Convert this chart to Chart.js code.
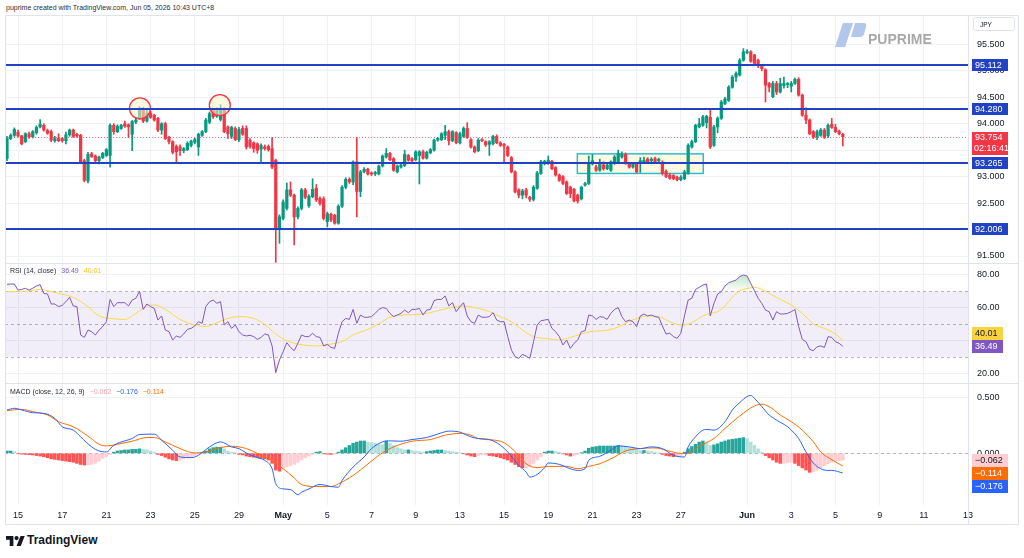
<!DOCTYPE html>
<html>
<head>
<meta charset="utf-8">
<title>JPY 4H</title>
<script src="https://cdn.jsdelivr.net/npm/chart.js@4.4.1/dist/chart.umd.min.js"></script>
<style>
  html, body { margin: 0; padding: 0; background: #fff; }
  body { width: 1024px; height: 558px; position: relative; overflow: hidden;
         font-family: 'Liberation Sans', Arial, sans-serif; color: #131722; }
  canvas { position: absolute; left: 0; }
  .abs { position: absolute; white-space: nowrap; }
  .sep { position: absolute; background: #e0e3eb; }
  #title { left: 6px; top: 4px; font-size: 7px; color: #2a2e39; }
  .legend { position: absolute; left: 10px; font-size: 7px; white-space: nowrap; color: #2a2e39; }
  .legend span { margin-left: 3px; }
  #jpy { left: 973px; top: 17px; width: 42px; height: 14px; border: 1px solid #e0e3eb; border-radius: 3px;
         font-size: 6.5px; line-height: 13px; padding-left: 6px; box-sizing: border-box; }
</style>
</head>
<body>
<div id="title" class="abs">puprime created with TradingView.com, Jun 05, 2026 10:43 UTC+8</div>

<canvas id="priceChart" width="1024" height="248" style="top:15px"></canvas>
<canvas id="rsiChart" width="1024" height="120" style="top:263px"></canvas>
<canvas id="macdChart" width="1024" height="141" style="top:383px"></canvas>

<!-- frame -->
<div class="sep" style="left:5px;top:15px;width:1014px;height:1px"></div>
<div class="sep" style="left:5px;top:524px;width:1014px;height:1px"></div>
<div class="sep" style="left:5px;top:15px;width:1px;height:510px"></div>
<div class="sep" style="left:1018px;top:15px;width:1px;height:510px"></div>
<div class="sep" style="left:968px;top:15px;width:1px;height:510px"></div>
<div class="sep" style="left:5px;top:263px;width:1014px;height:1px"></div>
<div class="sep" style="left:5px;top:383px;width:1014px;height:1px"></div>

<div id="jpy" class="abs">JPY</div>

<!-- watermark -->
<svg class="abs" style="left:834px;top:22px" width="34" height="26" viewBox="0 0 34 26">
  <path d="M1 25 L11 25 L19 1 L9 1 Z" fill="#b3c6ec"/>
  <path d="M21 1 H30 Q33 1 32 5 L30 12 Q29 15 26 15 H17 Z" fill="#b3c6ec"/>
</svg>
<div class="abs" style="left:868px;top:31px;font-size:14px;font-weight:bold;color:#a9a9a9">PUPRIME</div>

<div class="legend" style="top:267px">RSI (14, close) <span style="color:#7e57c2">36.49</span> <span style="color:#f5c518">40.01</span></div>
<div class="legend" style="top:388px">MACD (close, 12, 26, 9) <span style="color:#f7a1ab">−0.062</span> <span style="color:#2962ff">−0.176</span> <span style="color:#ff6d00">−0.114</span></div>

<!-- TradingView mark -->
<svg class="abs" style="left:6px;top:536px" width="19" height="10" viewBox="0 0 36 19">
  <path d="M14 19H7V7H0V0h14v19z" fill="#131722"/>
  <circle cx="20" cy="4" r="4" fill="#131722"/>
  <path d="M28 19h-8L27.5 0h8L28 19z" fill="#131722"/>
</svg>
<div class="abs" style="left:27px;top:533px;font-size:12px;font-weight:bold;color:#131722">TradingView</div>

<script>
const FONT = "'Liberation Sans', Arial, sans-serif";
const UP = '#089981';
const DOWN = '#f23645';
const LEVEL = '#2142c4';

// time axis (candle index of each label)
const tickIdx = [3, 15, 27, 39, 51, 63, 75, 87, 99, 111, 123, 135, 147, 159, 171, 183, 201, 213, 225, 237, 249, 261];
const tickText = ['15', '17', '21', '23', '25', '29', 'May', '5', '7', '9', '13', '15', '19', '21', '23', '27', 'Jun', '3', '5', '9', '11', '13'];

// 4H candles
const opens = [
  93.34, 93.72, 93.78, 93.84, 93.77, 93.66, 93.81, 93.75, 93.83, 93.94,
  93.97, 93.87, 93.85, 93.68, 93.72, 93.72, 93.68, 93.79, 93.88, 93.80,
  93.78, 93.30, 92.92, 93.43, 93.39, 93.30, 93.36, 93.40, 93.40, 93.97,
  93.85, 93.91, 94.00, 93.98, 93.80, 94.03, 94.10, 94.28, 94.05, 94.20,
  94.16, 94.10, 93.88, 94.00, 93.74, 93.66, 93.57, 93.56, 93.49, 93.51,
  93.59, 93.65, 93.56, 93.78, 93.85, 94.03, 94.25, 94.14, 94.08, 94.26,
  93.94, 93.76, 93.91, 93.70, 93.91, 93.91, 93.69, 93.64, 93.62, 93.52,
  93.56, 93.57, 93.53, 93.31, 92.02, 92.21, 92.40, 92.75, 92.65, 92.24,
  92.40, 92.75, 92.45, 92.62, 92.78, 92.59, 92.58, 92.15, 92.29, 92.27,
  92.12, 92.44, 92.80, 92.95, 92.90, 93.28, 92.72, 93.09, 93.14, 93.07,
  93.05, 93.05, 93.20, 93.37, 93.44, 93.34, 93.09, 93.18, 93.21, 93.40,
  93.34, 93.32, 93.40, 93.47, 93.35, 93.45, 93.50, 93.69, 93.70, 93.78,
  93.85, 93.68, 93.83, 93.64, 93.76, 93.91, 93.70, 93.56, 93.49, 93.70,
  93.66, 93.61, 93.62, 93.76, 93.64, 93.61, 93.56, 93.36, 93.09, 92.75,
  92.65, 92.75, 92.61, 92.57, 92.78, 93.06, 93.25, 93.25, 93.29, 93.17,
  93.03, 93.00, 92.90, 92.80, 92.76, 92.65, 92.58, 92.84, 92.87, 93.24,
  93.18, 93.12, 93.22, 93.15, 93.12, 93.25, 93.28, 93.37, 93.42, 93.25,
  93.18, 93.24, 93.25, 93.28, 93.33, 93.30, 93.34, 93.30, 93.24, 93.10,
  93.03, 93.02, 92.99, 92.94, 92.96, 93.06, 93.56, 93.66, 93.94, 93.97,
  94.02, 94.12, 93.59, 93.94, 94.10, 94.38, 94.44, 94.69, 94.88, 94.92,
  95.20, 95.34, 95.36, 95.30, 95.20, 95.10, 95.02, 94.76, 94.51, 94.76,
  94.60, 94.72, 94.74, 94.71, 94.76, 94.84, 94.54, 94.16, 94.07, 93.85,
  93.75, 93.78, 93.88, 93.77, 93.99, 93.93, 93.86, 93.80
];
const highs = [
  93.76, 93.81, 93.92, 93.88, 93.78, 93.83, 93.84, 93.87, 93.96, 94.08,
  94.00, 93.90, 93.88, 93.76, 93.81, 93.74, 93.84, 93.90, 93.90, 93.82,
  93.80, 93.33, 93.46, 93.46, 93.41, 93.39, 93.46, 93.53, 94.00, 94.00,
  93.98, 93.99, 94.05, 94.00, 94.06, 94.10, 94.32, 94.31, 94.26, 94.24,
  94.18, 94.12, 94.02, 94.03, 93.76, 93.68, 93.60, 93.60, 93.55, 93.66,
  93.69, 93.73, 93.82, 93.87, 94.10, 94.22, 94.28, 94.30, 94.36, 94.30,
  93.96, 93.95, 93.94, 93.93, 93.96, 93.96, 93.72, 93.66, 93.64, 93.62,
  93.60, 93.60, 93.74, 93.33, 92.28, 92.56, 92.88, 92.90, 92.67, 92.43,
  92.78, 92.78, 92.66, 92.96, 92.85, 92.62, 92.62, 92.33, 92.31, 92.29,
  92.47, 92.83, 92.98, 92.98, 93.30, 93.74, 93.12, 93.17, 93.16, 93.09,
  93.10, 93.22, 93.41, 93.53, 93.46, 93.36, 93.22, 93.24, 93.50, 93.42,
  93.36, 93.49, 93.49, 93.50, 93.48, 93.53, 93.71, 93.74, 93.83, 93.97,
  93.88, 93.87, 93.85, 93.84, 93.94, 94.02, 93.72, 93.58, 93.72, 93.72,
  93.68, 93.68, 93.78, 93.79, 93.66, 93.63, 93.58, 93.38, 93.11, 92.77,
  92.76, 92.78, 92.63, 92.83, 93.10, 93.31, 93.31, 93.39, 93.31, 93.19,
  93.05, 93.02, 92.92, 92.82, 92.78, 92.67, 92.82, 92.89, 93.39, 93.42,
  93.22, 93.33, 93.28, 93.27, 93.30, 93.40, 93.50, 93.47, 93.45, 93.27,
  93.27, 93.26, 93.36, 93.37, 93.36, 93.36, 93.37, 93.35, 93.30, 93.13,
  93.06, 93.04, 93.01, 93.02, 93.12, 93.62, 93.69, 93.99, 94.10, 94.16,
  94.16, 94.28, 93.97, 94.13, 94.44, 94.50, 94.72, 94.91, 94.98, 95.23,
  95.42, 95.40, 95.38, 95.31, 95.22, 95.12, 95.04, 94.78, 94.80, 94.80,
  94.86, 94.88, 94.78, 94.80, 94.86, 94.87, 94.56, 94.30, 94.09, 93.87,
  93.88, 93.91, 93.91, 94.00, 94.10, 93.99, 93.88, 93.82
];
const lows = [
  93.30, 93.70, 93.76, 93.75, 93.60, 93.64, 93.72, 93.73, 93.80, 93.92,
  93.86, 93.80, 93.66, 93.65, 93.66, 93.65, 93.62, 93.76, 93.74, 93.74,
  93.26, 92.90, 92.88, 93.36, 93.28, 93.24, 93.34, 93.38, 93.18, 93.80,
  93.83, 93.89, 93.93, 93.74, 93.49, 94.00, 94.08, 94.02, 94.03, 94.10,
  94.05, 93.85, 93.80, 93.70, 93.62, 93.43, 93.28, 93.40, 93.45, 93.49,
  93.56, 93.62, 93.40, 93.76, 93.83, 94.00, 94.10, 94.12, 94.05, 93.83,
  93.72, 93.72, 93.68, 93.66, 93.78, 93.52, 93.54, 93.46, 93.44, 93.28,
  93.50, 93.48, 93.15, 91.38, 91.74, 92.18, 92.37, 92.62, 91.71, 92.20,
  92.37, 92.58, 92.42, 92.60, 92.53, 92.46, 92.18, 92.05, 92.15, 92.10,
  92.10, 92.42, 92.77, 92.87, 92.85, 92.24, 92.62, 93.07, 93.03, 93.02,
  93.02, 93.03, 93.18, 93.35, 93.30, 93.10, 93.07, 93.16, 93.19, 93.29,
  93.28, 93.30, 92.86, 93.33, 93.33, 93.43, 93.48, 93.67, 93.68, 93.70,
  93.60, 93.66, 93.62, 93.62, 93.74, 93.72, 93.54, 93.45, 93.47, 93.66,
  93.57, 93.40, 93.60, 93.62, 93.57, 93.25, 93.38, 93.07, 92.69, 92.60,
  92.58, 92.60, 92.53, 92.54, 92.76, 93.04, 93.22, 93.23, 93.13, 93.01,
  92.91, 92.85, 92.66, 92.60, 92.52, 92.50, 92.56, 92.82, 92.85, 93.22,
  93.10, 93.10, 93.12, 93.13, 93.10, 93.23, 93.26, 93.35, 93.23, 93.16,
  93.16, 93.07, 93.08, 93.26, 93.26, 93.28, 93.26, 93.28, 93.03, 92.98,
  92.95, 92.94, 92.92, 92.92, 92.94, 93.04, 93.54, 93.64, 93.92, 93.95,
  93.92, 93.53, 93.57, 93.83, 94.08, 94.36, 94.42, 94.67, 94.80, 94.90,
  95.18, 95.32, 95.16, 95.10, 95.06, 95.00, 94.41, 94.60, 94.49, 94.55,
  94.58, 94.67, 94.68, 94.60, 94.74, 94.52, 94.14, 94.00, 93.79, 93.72,
  93.70, 93.76, 93.72, 93.74, 93.91, 93.83, 93.79, 93.58
];
const closes = [
  93.72, 93.78, 93.89, 93.77, 93.62, 93.81, 93.75, 93.85, 93.93, 93.99,
  93.88, 93.82, 93.69, 93.72, 93.68, 93.68, 93.79, 93.88, 93.76, 93.77,
  93.28, 92.93, 93.42, 93.38, 93.30, 93.37, 93.44, 93.51, 93.97, 93.85,
  93.95, 93.97, 93.95, 93.94, 94.04, 94.07, 94.29, 94.05, 94.20, 94.12,
  94.07, 93.88, 94.00, 93.72, 93.66, 93.46, 93.47, 93.49, 93.53, 93.63,
  93.67, 93.70, 93.80, 93.85, 94.07, 94.19, 94.13, 94.25, 94.27, 93.85,
  93.81, 93.93, 93.70, 93.89, 93.80, 93.56, 93.57, 93.53, 93.50, 93.59,
  93.53, 93.51, 93.18, 92.02, 92.24, 92.52, 92.75, 92.65, 92.24, 92.40,
  92.75, 92.61, 92.63, 92.76, 92.56, 92.49, 92.21, 92.30, 92.18, 92.12,
  92.44, 92.80, 92.95, 92.90, 93.28, 92.72, 93.09, 93.14, 93.05, 93.05,
  93.08, 93.20, 93.39, 93.44, 93.32, 93.12, 93.20, 93.22, 93.42, 93.31,
  93.30, 93.47, 93.47, 93.35, 93.46, 93.51, 93.69, 93.72, 93.81, 93.85,
  93.68, 93.85, 93.64, 93.81, 93.91, 93.74, 93.56, 93.47, 93.69, 93.68,
  93.60, 93.66, 93.76, 93.64, 93.59, 93.58, 93.40, 93.09, 92.71, 92.65,
  92.73, 92.65, 92.57, 92.80, 93.07, 93.28, 93.29, 93.31, 93.15, 93.03,
  92.93, 92.87, 92.68, 92.68, 92.54, 92.54, 92.80, 92.87, 93.24, 93.30,
  93.12, 93.25, 93.15, 93.22, 93.28, 93.37, 93.44, 93.42, 93.25, 93.18,
  93.25, 93.09, 93.30, 93.31, 93.28, 93.33, 93.28, 93.33, 93.06, 93.00,
  92.97, 92.96, 92.94, 92.99, 93.09, 93.59, 93.66, 93.97, 94.00, 94.13,
  94.14, 93.56, 93.94, 94.10, 94.41, 94.47, 94.69, 94.88, 94.95, 95.20,
  95.36, 95.36, 95.18, 95.14, 95.10, 95.04, 94.73, 94.69, 94.76, 94.60,
  94.76, 94.76, 94.75, 94.76, 94.84, 94.54, 94.16, 94.07, 93.81, 93.75,
  93.85, 93.88, 93.74, 93.97, 93.93, 93.85, 93.81, 93.754
];

const levels = [95.112, 94.280, 93.265, 92.006];
const lastPrice = 93.754;
const countdown = '02:16:41';
const priceTicks = [91.5, 92, 92.5, 93, 93.5, 94, 94.5, 95, 95.5];
const boxIdx = [154.9, 189.1];
const boxPrice = [93.06, 93.43];
const circleIdx = [36.1, 57.8];
const circlePrice = [94.29, 94.35];

// RSI (14) and its moving average
const rsi = [
  74.3, 74.5, 74.5, 70.8, 71.2, 71.9, 70.8, 71.9, 73.3, 74.1,
  68.8, 68.4, 62.3, 62.3, 60.7, 61.5, 63.7, 66.4, 61.1, 60.7,
  43.4, 41.9, 46.4, 45.4, 43.4, 46.4, 48.5, 51.5, 65.1, 60.7,
  63.1, 63.1, 63.1, 61.1, 64.7, 65.8, 70.0, 59.0, 62.3, 60.7,
  59.6, 52.5, 55.0, 46.4, 45.4, 40.3, 42.8, 41.9, 44.0, 46.8,
  47.4, 48.9, 51.5, 50.5, 60.7, 63.7, 64.7, 62.7, 63.7, 49.5,
  51.5, 47.4, 49.5, 45.4, 43.4, 42.8, 43.2, 42.4, 40.7, 41.9,
  44.0, 43.4, 36.7, 20.4, 28.1, 33.2, 38.7, 35.8, 33.8, 38.3,
  43.4, 42.4, 42.4, 44.4, 42.4, 41.9, 36.7, 37.7, 35.8, 35.2,
  44.4, 51.5, 53.5, 52.9, 59.0, 50.5, 55.6, 54.2, 54.2, 54.6,
  56.6, 59.0, 60.1, 59.6, 56.6, 54.6, 55.6, 56.6, 58.6, 57.0,
  59.0, 59.0, 59.6, 55.6, 58.6, 59.0, 64.3, 65.1, 65.1, 67.2,
  61.1, 63.1, 57.6, 60.7, 63.1, 55.0, 51.5, 50.5, 55.6, 54.2,
  54.2, 54.6, 57.0, 52.5, 51.5, 51.5, 42.4, 34.2, 30.1, 29.1,
  31.6, 30.5, 29.1, 39.3, 49.5, 52.1, 52.5, 52.9, 47.4, 45.4,
  42.4, 37.3, 40.3, 35.2, 38.3, 40.3, 45.4, 46.0, 55.6, 55.0,
  52.9, 54.6, 54.2, 52.9, 56.6, 59.0, 60.1, 54.6, 51.5, 52.5,
  51.5, 48.5, 55.0, 56.2, 55.0, 55.6, 54.6, 54.2, 48.9, 44.0,
  44.4, 42.4, 41.3, 44.4, 55.0, 64.7, 65.8, 71.2, 72.5, 73.9,
  74.5, 55.0, 62.7, 68.4, 69.8, 73.3, 75.3, 76.1, 76.9, 79.0,
  80.0, 79.4, 74.9, 70.4, 65.8, 62.7, 58.6, 57.6, 52.5, 57.6,
  56.2, 56.2, 56.6, 57.6, 59.0, 48.5, 40.7, 39.3, 34.6, 33.8,
  36.2, 36.7, 35.8, 42.4, 41.9, 39.3, 38.3, 36.49
];
const rsiMaIdx = [0, 4, 9, 12, 16, 18, 22, 25, 28, 32, 35, 38, 40, 43, 47, 51, 54, 56, 60, 63,
  67, 70, 73, 76, 79, 84, 89, 91, 94, 98, 101, 104, 108, 113, 116, 121, 124, 128, 131, 134,
  137, 140, 143, 147, 150, 153, 156, 159, 162, 165, 168, 171, 174, 177, 180, 183, 186, 189, 191, 193,
  195, 197, 199, 201, 203, 205, 207, 210, 213, 216, 219, 222, 225, 227];
const rsiMa = [69.8, 69.8, 71.2, 69.8, 67.8, 66.4, 60.7, 55.0, 53.5, 52.9, 56.6, 61.1, 61.7, 59.0, 52.9, 49.5, 48.5, 49.9, 53.5, 54.6,
  53.5, 49.9, 44.0, 39.9, 37.9, 36.7, 38.3, 39.3, 43.4, 46.8, 50.1, 54.2, 55.6, 56.2, 57.6, 60.3, 61.1, 59.6, 57.6, 54.6,
  51.5, 46.4, 42.4, 41.1, 40.3, 41.9, 44.0, 45.6, 46.0, 47.4, 50.5, 53.5, 55.0, 54.6, 51.5, 49.5, 50.9, 55.0, 56.6, 57.6,
  61.1, 66.4, 70.4, 71.7, 72.5, 71.2, 68.8, 65.1, 61.7, 56.6, 50.1, 47.4, 44.0, 40.01];
const rsiTicks = [20, 40, 60, 80];
const rsiLevels = [70, 50, 30];

// MACD (12, 26, 9)
const hist = [
  0.02, 0.02, 0.015, -0.005, -0.008, -0.01, -0.012, -0.015, -0.02, -0.025,
  -0.03, -0.04, -0.05, -0.055, -0.06, -0.065, -0.07, -0.075, -0.08, -0.09,
  -0.1, -0.105, -0.1, -0.1, -0.09, -0.07, -0.045, -0.03, -0.01, 0.01,
  0.02, 0.025, 0.03, 0.03, 0.035, 0.035, 0.04, 0.035, 0.03, 0.02,
  0.01, -0.01, -0.02, -0.035, -0.05, -0.06, -0.065, -0.06, -0.05, -0.04,
  -0.03, -0.02, -0.008, 0.01, 0.02, 0.04, 0.05, 0.055, 0.055, 0.04,
  0.02, 0.01, 0.005, -0.01, -0.015, -0.025, -0.03, -0.035, -0.04, -0.045,
  -0.05, -0.06, -0.09, -0.15, -0.16, -0.14, -0.12, -0.11, -0.1, -0.08,
  -0.06, -0.04, -0.025, -0.01, 0.01, 0.015, -0.005, -0.008, -0.01, -0.005,
  0.01, 0.03, 0.05, 0.07, 0.09, 0.1, 0.11, 0.11, 0.1, 0.095,
  0.09, 0.08, 0.075, 0.11, 0.09, 0.07, 0.05, 0.04, 0.03, 0.03,
  0.025, 0.02, 0.015, 0.01, 0.015, 0.02, 0.025, 0.03, 0.03, 0.025,
  0.02, 0.015, 0.01, 0.005, -0.005, -0.015, -0.025, -0.03, -0.02, -0.015,
  -0.015, -0.02, -0.025, -0.03, -0.04, -0.05, -0.06, -0.08, -0.1, -0.12,
  -0.13, -0.13, -0.12, -0.09, -0.06, -0.03, 0.01, 0.02, 0.02, 0.015,
  0.01, -0.005, -0.015, -0.025, -0.02, -0.01, 0.005, 0.02, 0.045, 0.055,
  0.06, 0.065, 0.065, 0.065, 0.065, 0.065, 0.07, 0.065, 0.06, 0.05,
  0.045, 0.04, 0.025, 0.025, 0.02, 0.015, 0.01, 0.005, -0.01, -0.02,
  -0.025, -0.03, -0.03, -0.02, 0.01, 0.04, 0.06, 0.08, 0.1, 0.11,
  0.1, 0.07, 0.075, 0.085, 0.1, 0.11, 0.12, 0.125, 0.13, 0.135,
  0.14, 0.13, 0.1, 0.07, 0.04, 0.01, -0.02, -0.04, -0.06, -0.08,
  -0.09, -0.09, -0.085, -0.08, -0.09, -0.11, -0.13, -0.15, -0.17, -0.165,
  -0.15, -0.13, -0.11, -0.095, -0.08, -0.07, -0.066, -0.062
];
const macdIdx = [0, 2, 4, 7, 10, 13, 15, 18, 20, 23, 25, 27, 29, 32, 34, 36, 40, 42, 45, 47,
  50, 52, 55, 58, 61, 63, 65, 68, 70, 72, 73, 75, 77, 79, 80, 82, 85, 88, 90, 91,
  94, 97, 99, 102, 104, 107, 110, 114, 118, 120, 123, 126, 128, 131, 134, 136, 139, 141, 142, 144,
  146, 147, 150, 153, 155, 157, 158, 161, 164, 166, 169, 172, 175, 178, 181, 184, 185, 187, 189, 190,
  192, 195, 197, 199, 201, 202, 203, 205, 207, 209, 212, 213, 215, 217, 219, 221, 223, 224, 227];
const macd = [0.387, 0.402, 0.387, 0.363, 0.357, 0.312, 0.237, 0.207, 0.147, 0.057, 0.021, 0.012, 0.072, 0.111, 0.132, 0.168, 0.171, 0.117, 0.027, -0.033,
  -0.039, -0.018, 0.057, 0.102, 0.057, 0.042, 0.003, -0.039, -0.063, -0.138, -0.273, -0.318, -0.324, -0.369, -0.348, -0.318, -0.279, -0.297, -0.303, -0.243,
  -0.123, -0.033, 0.042, 0.102, 0.111, 0.108, 0.123, 0.141, 0.183, 0.198, 0.189, 0.147, 0.132, 0.123, 0.072, 0.012, -0.108, -0.168, -0.213, -0.189,
  -0.129, -0.087, -0.099, -0.138, -0.153, -0.138, -0.063, -0.027, 0.027, 0.066, 0.057, 0.042, 0.057, 0.042, -0.018, -0.033, 0.057, 0.147, 0.207, 0.213,
  0.207, 0.282, 0.387, 0.453, 0.507, 0.517, 0.492, 0.417, 0.342, 0.297, 0.237, 0.207, 0.132, 0.012, -0.087, -0.138, -0.153, -0.153, -0.176];
const signalIdx = [0, 4, 7, 11, 14, 18, 22, 25, 27, 31, 34, 38, 40, 43, 47, 51, 54, 58, 61, 65,
  69, 72, 75, 78, 80, 84, 88, 90, 94, 97, 101, 104, 107, 110, 115, 119, 123, 126, 128, 134,
  136, 139, 141, 144, 147, 152, 155, 158, 161, 165, 168, 172, 176, 179, 182, 185, 188, 192, 195, 199,
  203, 205, 207, 210, 213, 216, 219, 221, 224, 227];
const signal = [0.381, 0.393, 0.372, 0.342, 0.282, 0.237, 0.153, 0.081, 0.066, 0.087, 0.108, 0.141, 0.141, 0.102, 0.042, 0.003, 0.012, 0.051, 0.063, 0.042,
  -0.018, -0.063, -0.138, -0.219, -0.279, -0.297, -0.297, -0.273, -0.198, -0.123, -0.018, 0.042, 0.081, 0.108, 0.123, 0.162, 0.177, 0.162, 0.132, 0.108,
  0.072, -0.018, -0.093, -0.129, -0.117, -0.117, -0.138, -0.117, -0.093, -0.033, 0.021, 0.042, 0.048, 0.027, 0.003, -0.003, 0.063, 0.132, 0.222, 0.333,
  0.423, 0.438, 0.417, 0.342, 0.282, 0.207, 0.102, 0.012, -0.057, -0.114];
const macdTicks = [0, 0.5];

const idx = closes.map((_, i) => i);
const candleColor = c => closes[c.dataIndex] >= opens[c.dataIndex] ? UP : DOWN;
const histColor = c => {
  const i = c.dataIndex;
  const v = hist[i];
  const p = i > 0 ? hist[i - 1] : v;
  if (v >= 0) return v >= p ? '#26a69a' : '#b2dfdb';
  return v < p ? '#ff5252' : '#ffcdd2';
};
const fmtNeg = s => s.replace('-', '\u2212');

function xAxis(showLabels) {
  return {
    type: 'linear', min: -0.54, max: 261, bounds: 'data', offset: false,
    afterBuildTicks: s => { s.ticks = tickIdx.map(v => ({ value: v })); },
    afterFit: s => { s.height = showLabels ? 19 : 0; s.paddingLeft = 0; s.paddingRight = 0; },
    grid: { color: '#f0f1f4', drawTicks: false, offset: false },
    border: { display: false },
    ticks: {
      display: showLabels, autoSkip: false, maxRotation: 0, padding: 5, color: '#131722',
      font: c => ({ family: FONT, size: 9, weight: /[A-Z]/.test(tickText[c.index] || '') ? 'bold' : 'normal' }),
      callback: (v, i) => tickText[i]
    }
  };
}

// the label padding is taken back out so the plot fills the whole pane height
function yAxis(min, max, ticks, digits) {
  return {
    position: 'right', min, max, bounds: 'data', beginAtZero: false,
    afterBuildTicks: s => { s.ticks = ticks.map(v => ({ value: v })); },
    afterFit: s => { s.width = 50; s.paddingTop = 0; s.paddingBottom = 0; },
    grid: { color: '#f0f1f4', drawTicks: false },
    border: { display: false },
    ticks: { padding: 9, color: '#131722', font: { family: FONT, size: 9 }, callback: v => v.toFixed(digits) }
  };
}

function tag(ctx, x, yc, w, h, bg, fg, text) {
  ctx.fillStyle = bg;
  ctx.fillRect(x, Math.round(yc - h / 2), w, h);
  ctx.fillStyle = fg;
  ctx.font = '9px ' + FONT;
  ctx.textAlign = 'left';
  ctx.textBaseline = 'middle';
  ctx.fillText(text, x + 3, yc + 0.5);
}

const baseOptions = {
  responsive: false,
  animation: false,
  events: [],
  layout: { padding: { left: 5, right: 6, top: 0, bottom: 0 }, autoPadding: false },
  plugins: { legend: { display: false }, tooltip: { enabled: false } }
};

// ---------- price pane ----------
const priceOverlay = {
  id: 'priceOverlay',
  beforeDatasetsDraw(chart) {
    const { ctx, scales: { x, y } } = chart;
    const x0 = x.getPixelForValue(boxIdx[0]), x1 = x.getPixelForValue(boxIdx[1]);
    const y0 = y.getPixelForValue(boxPrice[1]), y1 = y.getPixelForValue(boxPrice[0]);
    ctx.save();
    ctx.fillStyle = 'rgba(255, 243, 196, 0.5)';
    ctx.fillRect(x0, y0, x1 - x0, y1 - y0);
    ctx.strokeStyle = '#2dbdd0';
    ctx.lineWidth = 1.5;
    ctx.strokeRect(x0, y0, x1 - x0, y1 - y0);
    ctx.restore();
  },
  afterDatasetsDraw(chart) {
    const { ctx, chartArea: a, scales: { y } } = chart;
    ctx.save();
    const yp = Math.round(y.getPixelForValue(lastPrice)) + 0.5;
    ctx.strokeStyle = 'rgba(242, 54, 69, 0.7)';
    ctx.lineWidth = 1;
    ctx.setLineDash([1, 2]);
    ctx.beginPath(); ctx.moveTo(a.left, yp); ctx.lineTo(a.right, yp); ctx.stroke();
    ctx.setLineDash([]);
    ctx.strokeStyle = LEVEL;
    ctx.lineWidth = 2;
    levels.forEach(v => {
      const yy = Math.round(y.getPixelForValue(v));
      ctx.beginPath(); ctx.moveTo(a.left, yy); ctx.lineTo(a.right, yy); ctx.stroke();
    });
    ctx.restore();
  },
  afterDraw(chart) {
    const { ctx, chartArea: a, scales: { y } } = chart;
    const lx = a.right + 4;
    ctx.save();
    levels.forEach(v => tag(ctx, lx, y.getPixelForValue(v), 36, 12, LEVEL, '#ffffff', v.toFixed(3)));
    const yp = y.getPixelForValue(lastPrice);
    ctx.fillStyle = DOWN;
    ctx.fillRect(lx, Math.round(yp - 5), 36, 23);
    ctx.fillStyle = '#ffffff';
    ctx.font = '9px ' + FONT;
    ctx.textBaseline = 'middle';
    ctx.fillText(lastPrice.toFixed(3), lx + 3, yp + 0.5);
    ctx.fillText(countdown, lx + 2, yp + 11.5);
    ctx.restore();
  }
};

new Chart(document.getElementById('priceChart'), {
  type: 'bar',
  data: {
    datasets: [
      {
        type: 'scatter', order: 0,
        data: circleIdx.map((v, k) => ({ x: v, y: circlePrice[k] })),
        pointRadius: 10.5, pointBorderWidth: 1.3,
        pointBorderColor: DOWN, pointBackgroundColor: 'rgba(255, 243, 196, 0.55)'
      },
      {
        order: 1, grouped: false, barThickness: 2.6, minBarLength: 1,
        data: idx.map(i => ({ x: i, y: [opens[i], closes[i]] })),
        backgroundColor: candleColor
      },
      {
        order: 2, grouped: false, barThickness: 1,
        data: idx.map(i => ({ x: i, y: [lows[i], highs[i]] })),
        backgroundColor: candleColor
      }
    ]
  },
  options: {
    ...baseOptions,
    scales: { x: xAxis(false), y: yAxis(91.368, 96.054, priceTicks, 3) }
  },
  plugins: [priceOverlay]
});

// ---------- RSI pane ----------
function zone(ctx, a, pts, yLevel, yEdge, c0, c1, above) {
  ctx.save();
  ctx.beginPath();
  if (above) ctx.rect(a.left, a.top, a.right - a.left, yLevel - a.top);
  else ctx.rect(a.left, yLevel, a.right - a.left, a.bottom - yLevel);
  ctx.clip();
  ctx.beginPath();
  ctx.moveTo(pts[0].x, yLevel);
  pts.forEach(p => ctx.lineTo(p.x, p.y));
  ctx.lineTo(pts[pts.length - 1].x, yLevel);
  ctx.closePath();
  const g = ctx.createLinearGradient(0, yLevel, 0, yEdge);
  g.addColorStop(0, c0);
  g.addColorStop(1, c1);
  ctx.fillStyle = g;
  ctx.fill();
  ctx.restore();
}

const rsiOverlay = {
  id: 'rsiOverlay',
  beforeDatasetsDraw(chart) {
    const { ctx, chartArea: a, scales: { y } } = chart;
    const yTop = y.getPixelForValue(rsiLevels[0]);
    const yBot = y.getPixelForValue(rsiLevels[2]);
    ctx.save();
    ctx.fillStyle = 'rgba(126, 87, 194, 0.1)';
    ctx.fillRect(a.left, yTop, a.right - a.left, yBot - yTop);
    ctx.strokeStyle = 'rgba(120, 123, 134, 0.55)';
    ctx.lineWidth = 1;
    ctx.setLineDash([3, 3]);
    rsiLevels.forEach(v => {
      const yy = Math.round(y.getPixelForValue(v)) + 0.5;
      ctx.beginPath(); ctx.moveTo(a.left, yy); ctx.lineTo(a.right, yy); ctx.stroke();
    });
    ctx.restore();
    const pts = chart.getDatasetMeta(0).data;
    zone(ctx, a, pts, yTop, y.getPixelForValue(100), 'rgba(76, 175, 80, 0)', 'rgba(76, 175, 80, 1)', true);
    zone(ctx, a, pts, yBot, y.getPixelForValue(0), 'rgba(242, 54, 69, 0)', 'rgba(242, 54, 69, 1)', false);
  },
  afterDraw(chart) {
    const { ctx, chartArea: a, scales: { y } } = chart;
    const lx = a.right + 4, h = 13;
    const vR = rsi[rsi.length - 1], vM = rsiMa[rsiMa.length - 1];
    const yR = y.getPixelForValue(vR);
    const yM = Math.min(y.getPixelForValue(vM), yR - h);
    ctx.save();
    tag(ctx, lx, yM, 31, h, '#f9d33f', '#131722', vM.toFixed(2));
    tag(ctx, lx, yR, 31, h, '#7e57c2', '#ffffff', vR.toFixed(2));
    ctx.restore();
  }
};

new Chart(document.getElementById('rsiChart'), {
  type: 'line',
  data: {
    datasets: [
      {
        data: idx.map(i => ({ x: i, y: rsi[i] })),
        borderColor: '#7e57c2', borderWidth: 1, pointRadius: 0, fill: false, tension: 0
      },
      {
        data: rsiMaIdx.map((v, k) => ({ x: v, y: rsiMa[k] })),
        borderColor: '#fbd74a', borderWidth: 1, pointRadius: 0, fill: false,
        cubicInterpolationMode: 'monotone'
      }
    ]
  },
  options: {
    ...baseOptions,
    scales: { x: xAxis(false), y: yAxis(14.08, 87.32, rsiTicks, 2) }
  },
  plugins: [rsiOverlay]
});

// ---------- MACD pane ----------
const macdOverlay = {
  id: 'macdOverlay',
  beforeDatasetsDraw(chart) {
    const { ctx, chartArea: a, scales: { y } } = chart;
    const y0 = Math.round(y.getPixelForValue(0)) + 0.5;
    ctx.save();
    ctx.strokeStyle = 'rgba(120, 123, 134, 0.5)';
    ctx.lineWidth = 1;
    ctx.setLineDash([3, 3]);
    ctx.beginPath(); ctx.moveTo(a.left, y0); ctx.lineTo(a.right, y0); ctx.stroke();
    ctx.restore();
  },
  afterDraw(chart) {
    const { ctx, chartArea: a, scales: { y } } = chart;
    const lx = a.right + 4, h = 13;
    const items = [
      { v: hist[hist.length - 1], bg: '#ffcdd2', fg: '#131722' },
      { v: signal[signal.length - 1], bg: '#ff6d00', fg: '#ffffff' },
      { v: macd[macd.length - 1], bg: '#2962ff', fg: '#ffffff' }
    ].sort((p, q) => q.v - p.v);
    let prev = -Infinity;
    ctx.save();
    items.forEach(it => {
      const yy = Math.max(y.getPixelForValue(it.v), prev + h);
      tag(ctx, lx, yy, 36, h, it.bg, it.fg, fmtNeg(it.v.toFixed(3)));
      prev = yy;
    });
    ctx.restore();
  }
};

new Chart(document.getElementById('macdChart'), {
  type: 'bar',
  data: {
    datasets: [
      {
        type: 'line', order: 0,
        data: macdIdx.map((v, k) => ({ x: v, y: macd[k] })),
        borderColor: '#2962ff', borderWidth: 1, pointRadius: 0, cubicInterpolationMode: 'monotone'
      },
      {
        type: 'line', order: 1,
        data: signalIdx.map((v, k) => ({ x: v, y: signal[k] })),
        borderColor: '#ff6d00', borderWidth: 1, pointRadius: 0, cubicInterpolationMode: 'monotone'
      },
      {
        order: 2, grouped: false, barThickness: 2.8,
        data: idx.map(i => ({ x: i, y: hist[i] })),
        backgroundColor: histColor
      }
    ]
  },
  options: {
    ...baseOptions,
    scales: { x: xAxis(true), y: yAxis(-0.462, 0.628, macdTicks, 3) }
  },
  plugins: [macdOverlay]
});
</script>
</body>
</html>
